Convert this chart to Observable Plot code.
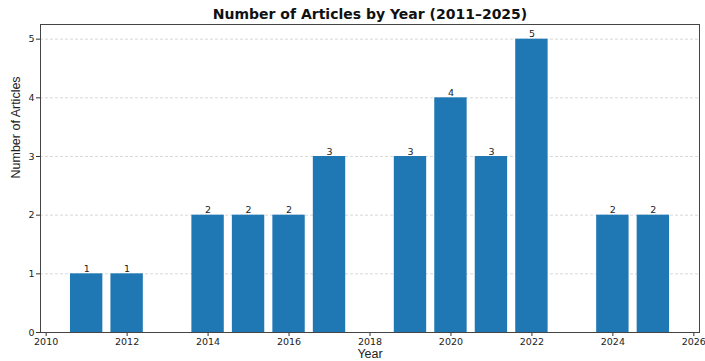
<!DOCTYPE html>
<html><head><meta charset="utf-8">
<script src="https://cdn.jsdelivr.net/npm/d3@7"></script>
<script src="https://cdn.jsdelivr.net/npm/@observablehq/plot@0.6"></script>
<style>body{margin:0;background:#fff}</style>
</head><body><div id="chart"></div>
<script>
const years = [2011, 2012, 2014, 2015, 2016, 2017, 2019, 2020, 2021, 2022, 2024, 2025];
const counts = [1, 1, 2, 2, 2, 3, 3, 4, 3, 5, 2, 2];
const xTicks = [2010, 2012, 2014, 2016, 2018, 2020, 2022, 2024, 2026];
const yTicks = [0, 1, 2, 3, 4, 5];
const titleText = "Number of Articles by Year (2011–2025)";

const data = years.map((y, i) => ({year: y, count: counts[i]}));
const barW = 0.8;

const chart = Plot.plot({
  width: 705, height: 361,
  marginLeft: 40, marginRight: 6, marginTop: 24, marginBottom: 29,
  style: {fontFamily: "DejaVu Sans", fontSize: "9.5px", color: "#222", background: "#fff", overflow: "visible"},
  x: {type: "linear", domain: [2009.86, 2026.14]},
  y: {domain: [0, 5.25]},
  marks: [
    Plot.ruleY(yTicks.filter(d => d > 0), {stroke: "#cfcfcf", strokeDasharray: "3,2", strokeWidth: 0.8}),
    Plot.rectY(data, {x1: d => d.year - barW/2, x2: d => d.year + barW/2, y1: 0, y2: "count", fill: "#1f77b4"}),
    Plot.text(data, {x: "year", y: "count", text: d => String(d.count), dy: -5, fontSize: 9.5, fill: "#222"}),
    Plot.axisX({ticks: xTicks, tickFormat: d => String(d), tickSize: 4, tickPadding: 2, label: null, stroke: "#333"}),
    Plot.axisY({ticks: yTicks, tickFormat: d => String(d), tickSize: 4, tickPadding: 2, label: null, stroke: "#333"}),
    Plot.frame({stroke: "#444", strokeWidth: 1}),
    Plot.text([titleText], {frameAnchor: "top", lineAnchor: "middle", dy: -10, fontSize: 14, fontWeight: "bold", fontFamily: "DejaVu Sans", fill: "#111"}),
    Plot.text(["Year"], {frameAnchor: "bottom", lineAnchor: "middle", dy: 21.5, fontSize: 12.5, fontFamily: "Liberation Sans", fill: "#222"}),
    Plot.text(["Number of Articles"], {frameAnchor: "left", dx: -25, rotate: -90, fontSize: 12.5, fontFamily: "Liberation Sans", fill: "#222"})
  ]
});
document.getElementById("chart").appendChild(chart);
</script></body></html>
